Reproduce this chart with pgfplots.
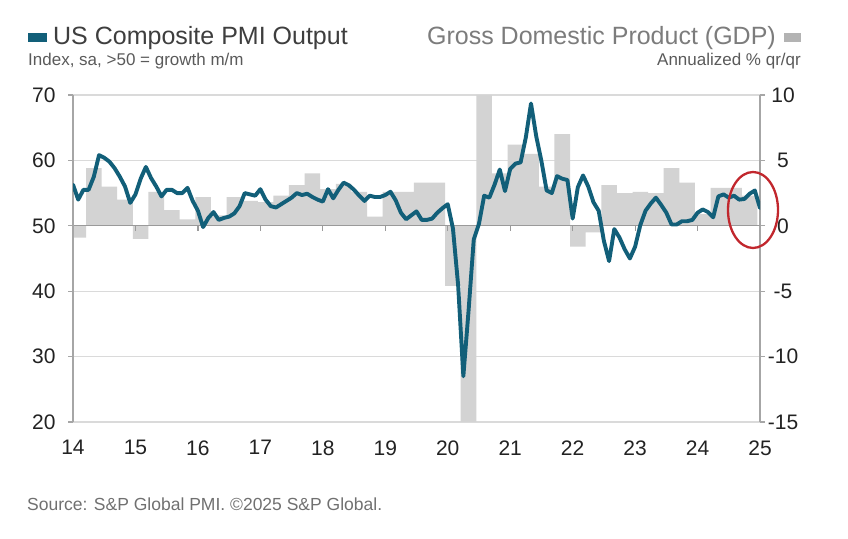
\documentclass[border=0pt]{standalone}
\usepackage{pgfplots}
\pgfplotsset{compat=1.18}
\usepackage{fontspec}
\setmainfont{Liberation Sans}
\definecolor{pmiteal}{HTML}{125F79}
\definecolor{gdpgrey}{HTML}{D3D3D3}
\definecolor{gridgrey}{HTML}{DADADA}
\definecolor{axisgrey}{HTML}{A6A6A6}
\definecolor{zerogrey}{HTML}{9A9A9A}
\definecolor{titledark}{HTML}{3E3E3E}
\definecolor{titlegrey}{HTML}{7C7C7C}
\definecolor{subgrey}{HTML}{5A5A5A}
\definecolor{sourcegrey}{HTML}{707070}
\definecolor{ticktext}{HTML}{222222}
\definecolor{circred}{HTML}{C1272D}
\begin{document}
\begin{tikzpicture}[x=1bp,y=1bp]
\useasboundingbox (0,0) rectangle (848,539);
\pgfplotsset{
  base/.style={scale only axis, width=687bp, height=327bp, at={(73bp,117bp)}, anchor=south west,
    xmin=0, xmax=132,
    tick label style={font=\fontsize{21bp}{24bp}\selectfont, text=ticktext},
    /pgf/number format/assume math mode=true,
    tick align=outside, major tick length=5bp,
    y axis line style={axisgrey, line width=1.3bp, -},
    ytick style={axisgrey, line width=1.2bp}}
}
% GDP (right axis, bars)
\begin{axis}[base,
  ymin=-15, ymax=10, ytick={-15,-10,-5,0,5,10},
  axis x line=none, axis y line*=right,
  ymajorgrids, grid style={gridgrey, line width=1.3bp},
  yticklabel style={anchor=center, xshift=18bp}]
\addplot[ybar, bar width=3, fill=gdpgrey, draw=none] coordinates {
(1,-0.9) (4,4.4) (7,3.0) (10,2.0)
(13,-1.0) (16,2.6) (19,1.2) (22,0.5)
(25,2.2) (28,0.8) (31,2.2) (34,1.9)
(37,1.8) (40,2.3) (43,3.1) (46,4.0)
(49,2.8) (52,3.2) (55,2.6) (58,0.7)
(61,2.6) (64,2.6) (67,3.3) (70,3.3)
(73,-4.6) (76,-15) (79,10) (82,4.0)
(85,6.2) (88,5.5) (91,3.0) (94,7.0)
(97,-1.6) (100,-0.5) (103,3.1) (106,2.5)
(109,2.6) (112,2.5) (115,4.4) (118,3.3)
(121,0.9) (124,2.9) (127,2.9) (130,2.3)
};
\draw[zerogrey, line width=1.4bp] (axis cs:0,0) -- (axis cs:132,0);
\pgfplotsinvokeforeach{12,24,...,120}{
  \draw[zerogrey, line width=1.2bp] (axis cs:#1,0) -- ++(0bp,-5bp);
}
\end{axis}
% PMI (left axis, line)
\begin{axis}[base,
  ymin=20, ymax=70, ytick={20,30,40,50,60,70},
  axis y line*=left, axis x line*=bottom,
  x axis line style={draw=none},
  xtick={0,12,24,36,48,60,72,84,96,108,120,132},
  xticklabels={14,15,16,17,18,19,20,21,22,23,24,25},
  xtick style={draw=none},
  yticklabel style={anchor=east, xshift=-9bp},
  xticklabel style={anchor=north, yshift=-10bp}]
\addplot[pmiteal, line width=3.9bp, line join=round, line cap=round] coordinates {
(0,56.3) (1,54.0) (2,55.5) (3,55.5) (4,57.5) (5,60.8) (6,60.4) (7,59.8) (8,58.8) (9,57.5) (10,56.0) (11,53.5)
(12,54.8) (13,57.2) (14,59.0) (15,57.3) (16,56.0) (17,54.5) (18,55.5) (19,55.5) (20,55.0) (21,55.0) (22,55.8) (23,53.8)
(24,52.3) (25,49.8) (26,51.2) (27,52.1) (28,50.9) (29,51.2) (30,51.4) (31,51.9) (32,53.0) (33,55.0) (34,54.8) (35,54.6)
(36,55.6) (37,54.0) (38,53.0) (39,52.8) (40,53.3) (41,53.8) (42,54.3) (43,55.0) (44,54.7) (45,54.9) (46,54.4) (47,54.0)
(48,53.7) (49,55.6) (50,54.2) (51,55.5) (52,56.6) (53,56.2) (54,55.5) (55,54.6) (56,53.8) (57,54.6) (58,54.4) (59,54.4)
(60,54.7) (61,55.2) (62,53.9) (63,52.0) (64,51.0) (65,51.6) (66,52.2) (67,50.9) (68,50.9) (69,51.1) (70,52.0) (71,52.7)
(72,53.3) (73,49.6) (74,40.9) (75,27.0) (76,37.0) (77,47.9) (78,50.3) (79,54.6) (80,54.3) (81,56.3) (82,58.6) (83,55.3)
(84,58.7) (85,59.5) (86,59.7) (87,63.5) (88,68.7) (89,63.7) (90,59.9) (91,55.4) (92,55.0) (93,57.6) (94,57.2) (95,57.0)
(96,51.1) (97,55.9) (98,57.7) (99,56.0) (100,53.6) (101,52.3) (102,47.7) (103,44.6) (104,49.5) (105,48.2) (106,46.4) (107,45.0)
(108,46.8) (109,50.1) (110,52.3) (111,53.4) (112,54.3) (113,53.2) (114,52.0) (115,50.2) (116,50.2) (117,50.7) (118,50.7) (119,50.9)
(120,52.0) (121,52.5) (122,52.1) (123,51.3) (124,54.5) (125,54.8) (126,54.3) (127,54.6) (128,54.0) (129,54.1) (130,54.9) (131,55.4)
(132,52.7)
};
\end{axis}
% annotation
\draw[circred, line width=2.3bp] (753,329) ellipse [x radius=25, y radius=38];
% titles
\fill[pmiteal] (28,497) rectangle (47,506);
\node[anchor=base west, inner sep=0, font=\fontsize{25bp}{28bp}\selectfont, text=titledark] at (53,494) {US Composite PMI Output};
\node[anchor=base west, inner sep=0, font=\fontsize{17bp}{20bp}\selectfont, text=subgrey] at (28,473) {Index, sa, >50 = growth m/m};
\node[anchor=base east, inner sep=0, font=\fontsize{25bp}{28bp}\selectfont, text=titlegrey] at (776,494) {Gross Domestic Product (GDP)};
\fill[gdpgrey!85!black] (784,497) rectangle (801,506);
\node[anchor=base east, inner sep=0, font=\fontsize{17bp}{20bp}\selectfont, text=subgrey] at (801,473) {Annualized \% qr/qr};
\node[anchor=base west, inner sep=0, font=\fontsize{17.5bp}{20bp}\selectfont, text=sourcegrey] at (27,28) {Source: S\&P Global PMI. ©2025 S\&P Global.};
\end{tikzpicture}
\end{document}
